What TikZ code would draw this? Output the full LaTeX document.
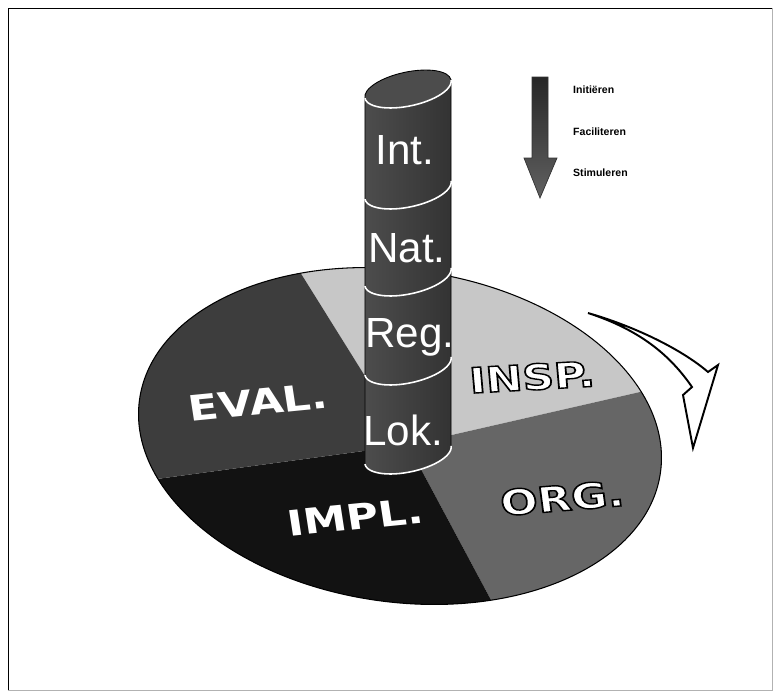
\documentclass[tikz,border=0pt]{standalone}
\usepackage{fontspec}
\setmainfont{Liberation Sans}
\newfontfamily\heavyfont{DejaVu Sans}
\usepackage{tikz}
\usetikzlibrary{calc}

\newcommand\outlined[1]{\special{pdf:literal direct 2 Tr 0.8 w 0 G}#1\special{pdf:literal direct 0 Tr}}

\tikzset{
  pielabel/.style={text=white, font=\heavyfont\bfseries\fontsize{20}{20}\selectfont, xscale=1.25},
  cyllabel/.style={text=white, font=\fontsize{24}{24}\selectfont},
  legendlabel/.style={anchor=west, font=\bfseries\fontsize{6}{7}\selectfont},
  band/.style={white, line width=0.9pt}
}

\begin{document}
\begin{tikzpicture}[x=0.02cm,y=-0.02cm]
\useasboundingbox (0,0) rectangle (781,697);
% frame
\draw[line width=0.5pt] (8,690) -- (8,8) -- (772,8);
\draw[gray!60, line width=0.4pt] (772,8) -- (772,690) -- (8,690);

% pie
\coordinate (m) at (408,445);
\coordinate (b1) at (300,272);
\coordinate (b2) at (640,392);
\coordinate (b3) at (491,600);
\coordinate (b4) at (142,481);
\begin{scope}
\clip[rotate around={-8:(400,436)}] (400,436) ellipse [x radius=263, y radius=166];
\fill[black!22] (m) -- ($(m)!2!(b1)$) -- (872,99) -- ($(m)!2!(b2)$) -- cycle;
\fill[black!60] (m) -- ($(m)!2!(b2)$) -- (872,755) -- ($(m)!2!(b3)$) -- cycle;
\fill[black!93] (m) -- ($(m)!2!(b3)$) -- (-124,755) -- ($(m)!2!(b4)$) -- cycle;
\fill[black!76] (m) -- ($(m)!2!(b4)$) -- (-124,99) -- ($(m)!2!(b1)$) -- cycle;
\end{scope}
\draw[line width=0.6pt, rotate around={-8:(400,436)}] (400,436) ellipse [x radius=263, y radius=166];

\node[pielabel, rotate=7] (eval) at (258,402) {EVAL.};
\node[pielabel, rotate=4] (insp) at (532,377) {\outlined{INSP.}};
\node[pielabel, rotate=6] (org) at (562,498) {\outlined{ORG.}};
\node[pielabel, rotate=7] (impl) at (355,517) {IMPL.};

% cylinder
\shade[left color=black!70, middle color=black!32, right color=black!80, draw=black, line width=0.4pt]
  (364.96,98.15) -- plot[domain=180:0, samples=30] ({408+43.04*cos(\x)+3.53*sin(\x)}, {455-9.15*cos(\x)+16.63*sin(\x)}) -- (451.04,79.85) -- cycle;
\draw[fill=black!70, line width=0.5pt, rotate around={12:(408,89)}] (408,89) ellipse [x radius=44, y radius=17];
\foreach \yy in {89,190,277,366,455}
  \draw[band] plot[domain=180:0, samples=30] ({408+43.04*cos(\x)+3.53*sin(\x)}, {\yy-9.15*cos(\x)+16.63*sin(\x)});

\node[cyllabel] (int) at (405,150) {Int.};
\node[cyllabel] (nat) at (407,248) {Nat.};
\node[cyllabel] (reg) at (410,337) {Reg.};
\node[cyllabel] (lok) at (403,430) {Lok.};

% legend
\shade[top color=black!85, bottom color=black!62, draw=black!80, line width=0.4pt]
  (532,77) -- (548,77) -- (548,158) -- (557,158) -- (540,198) -- (524,158) -- (532,158) -- cycle;
\node[legendlabel] (init) at (567,90) {Initiëren};
\node[legendlabel] (facil) at (567,132) {Faciliteren};
\node[legendlabel] (stim) at (567,173) {Stimuleren};

% turning arrow
\draw[line width=1.1pt, fill=white, line join=miter]
  (588,313) .. controls (640,328) and (685,352) .. (708,372) -- (718,365) -- (693,448)
  -- (683,395) -- (692,387) .. controls (670,355) and (640,330) .. cycle;
\end{tikzpicture}
\end{document}
